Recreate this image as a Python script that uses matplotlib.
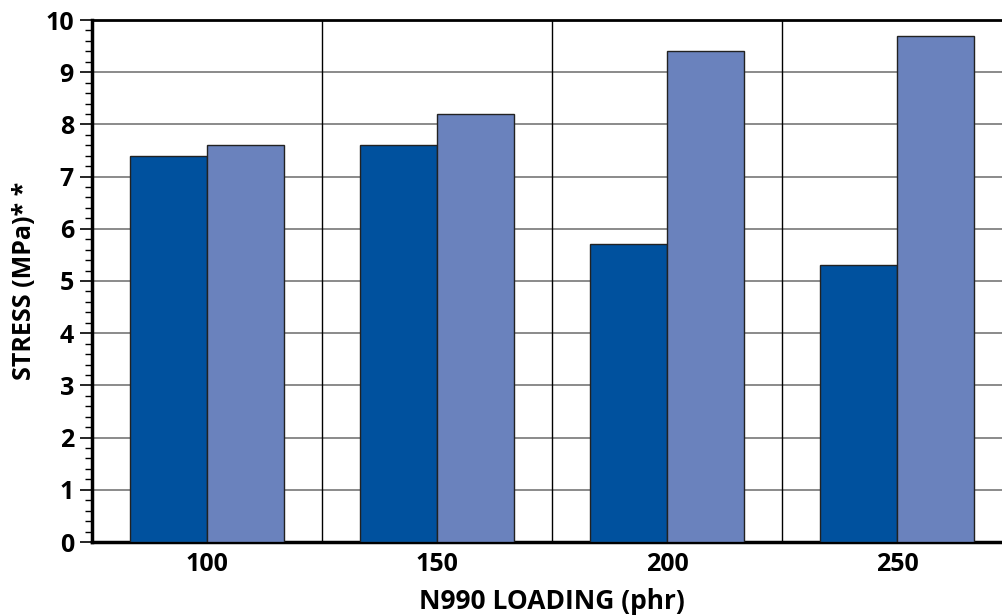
import matplotlib
matplotlib.use("Agg")
import matplotlib.pyplot as plt
from matplotlib.ticker import MultipleLocator
import numpy as np

categories = ["100", "150", "200", "250"]
series_dark = [7.4, 7.6, 5.7, 5.3]
series_light = [7.6, 8.2, 9.4, 9.7]

plt.rcParams['font.family'] = ['Open Sans', 'DejaVu Sans']
plt.rcParams['font.weight'] = 'bold'

fig = plt.figure(figsize=(10.03, 6.16), dpi=100)
ax = fig.add_axes([92/1003, 74/616, (1012-92)/1003, 522/616])

x = np.arange(len(categories))
w = 0.335
ax.bar(x - w/2, series_dark, w, color="#00519E", edgecolor="#222222", linewidth=1.0, zorder=3)
ax.bar(x + w/2, series_light, w, color="#6A82BD", edgecolor="#222222", linewidth=1.0, zorder=3)

ax.set_xlim(-0.5, 3.5)
ax.set_ylim(0, 10)
ax.set_xticks(x)
ax.set_xticklabels(categories)
ax.yaxis.set_major_locator(MultipleLocator(1))
ax.yaxis.set_minor_locator(MultipleLocator(0.2))

for yv in range(1, 10):
    ax.axhline(yv, color="#777777", linewidth=1.2, zorder=1)
for xv in [0.5, 1.5, 2.5]:
    ax.axvline(xv, color="black", linewidth=1.0, zorder=1)

for s in ['left', 'bottom']:
    ax.spines[s].set_linewidth(2.5)
ax.spines['top'].set_linewidth(2.0)
ax.spines['right'].set_visible(False)

ax.tick_params(axis='x', length=0, pad=7, labelsize=18)
ax.tick_params(axis='y', which='major', length=9, width=1.2, labelsize=18, pad=4)
ax.tick_params(axis='y', which='minor', length=5, width=1.0)

ax.set_xlabel("N990 LOADING (phr)", fontsize=19, fontweight='bold', labelpad=8)
ax.set_ylabel("STRESS (MPa)* *", fontsize=18, fontweight='bold', labelpad=6)

fig.savefig("out.png", dpi=100)
